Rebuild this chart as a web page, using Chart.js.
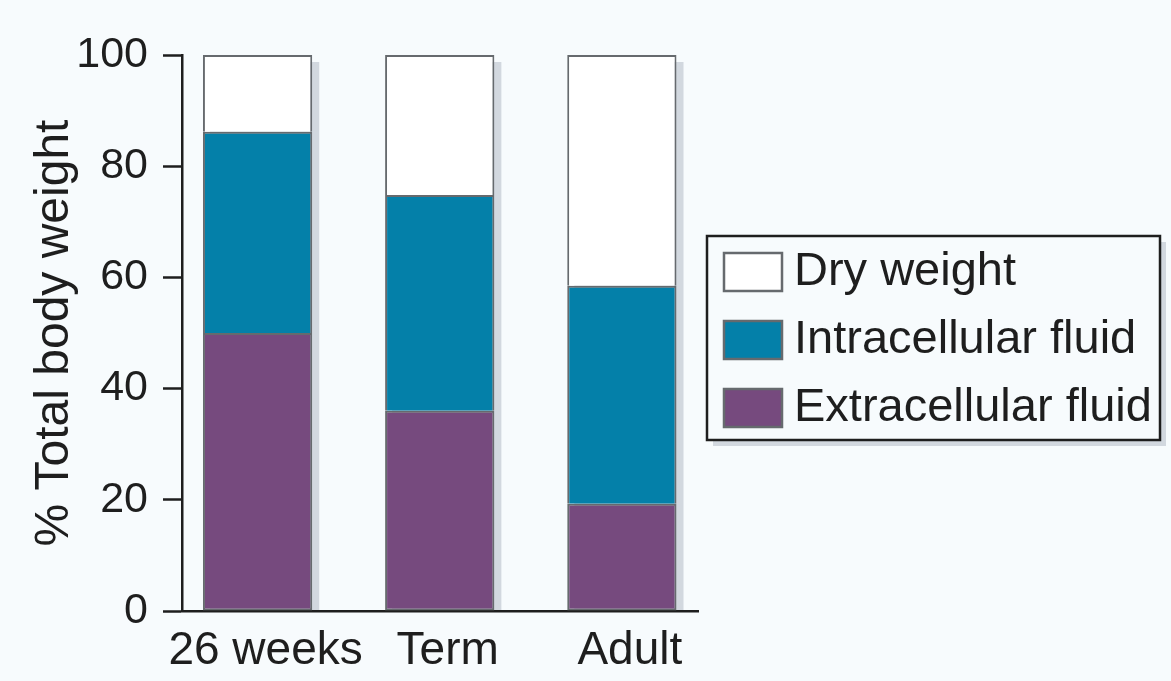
<!DOCTYPE html>
<html>
<head>
<meta charset="utf-8">
<title>Body water distribution</title>
<script src="https://cdn.jsdelivr.net/npm/chart.js@4.4.1/dist/chart.umd.min.js"></script>
<style>
  html, body { margin: 0; padding: 0; background: #f7fbfd; }
  #wrap { width: 1171px; height: 681px; }
</style>
</head>
<body>
<div id="wrap"><canvas id="body-water" width="1171" height="681"></canvas></div>
<script>
// Values (% of total body weight)
const categories = ['26 weeks', 'Term', 'Adult'];
const extracellular = [50, 36, 19.3];
const intracellular = [36.2, 38.8, 39.2];
const dryWeight = [13.8, 25.2, 41.5];
const yTicks = [0, 20, 40, 60, 80, 100];

const ink = '#1e1e1e';
const edge = '#666a6e';
const shade = '#d2d8df';
const fontFamily = '"Liberation Sans", Arial, Helvetica, sans-serif';

// grey drop shadow behind each whole bar stack
const barShadow = {
    id: 'barShadow',
    beforeDatasetsDraw(chart) {
        const ctx = chart.ctx;
        const area = chart.chartArea;
        const topMeta = chart.getDatasetMeta(chart.data.datasets.length - 1);
        const baseMeta = chart.getDatasetMeta(0);
        ctx.save();
        ctx.beginPath();
        ctx.rect(area.left, area.top - 2, area.right - area.left + 20, area.bottom - area.top + 1);
        ctx.clip();
        ctx.fillStyle = shade;
        topMeta.data.forEach(function(bar, i) {
            const top = bar.getProps(['x', 'y', 'width'], true);
            const base = baseMeta.data[i].getProps(['base'], true).base;
            ctx.fillRect(top.x - top.width / 2 + 7, top.y + 7, top.width, base - top.y);
        });
        ctx.restore();
    }
};

// framed legend box on the right, entries listed top to bottom of the stack
const legendFrame = {
    id: 'legendFrame',
    afterDraw(chart) {
        const ctx = chart.ctx;
        const box = { left: 707, top: 236, width: 453, height: 204 };
        ctx.save();
        ctx.fillStyle = shade;
        ctx.fillRect(box.left + 6, box.top + 6, box.width, box.height);
        ctx.fillStyle = '#f7fbfd';
        ctx.fillRect(box.left, box.top, box.width, box.height);
        ctx.lineWidth = 2.5;
        ctx.strokeStyle = ink;
        ctx.strokeRect(box.left, box.top, box.width, box.height);

        const items = chart.data.datasets.slice().reverse();
        ctx.font = '47px ' + fontFamily;
        ctx.textBaseline = 'middle';
        items.forEach(function(ds, i) {
            const y = box.top + 16 + i * 68;
            ctx.fillStyle = ds.backgroundColor;
            ctx.fillRect(box.left + 16, y, 60, 40);
            ctx.lineWidth = 2.5;
            ctx.strokeStyle = ds.borderColor;
            ctx.strokeRect(box.left + 17, y + 1, 58, 38);
            ctx.fillStyle = ink;
            ctx.fillText(ds.label, box.left + 87, y + 20);
        });
        ctx.restore();
    }
};

const ctx = document.getElementById('body-water').getContext('2d');

new Chart(ctx, {
    type: 'bar',
    data: {
        datasets: [
            {
                label: 'Extracellular fluid',
                data: extracellular.map((v, i) => ({ x: i, y: v })),
                backgroundColor: '#764a7e',
                borderColor: edge,
                borderWidth: 2,
                borderSkipped: false
            },
            {
                label: 'Intracellular fluid',
                data: intracellular.map((v, i) => ({ x: i, y: v })),
                backgroundColor: '#0480a9',
                borderColor: edge,
                borderWidth: 2,
                borderSkipped: 'bottom'
            },
            {
                label: 'Dry weight',
                data: dryWeight.map((v, i) => ({ x: i, y: v })),
                backgroundColor: '#ffffff',
                borderColor: edge,
                borderWidth: 2,
                borderSkipped: 'bottom'
            }
        ]
    },
    options: {
        responsive: false,
        animation: false,
        barPercentage: 0.6,
        categoryPercentage: 1,
        layout: {
            padding: { left: 31, right: 473, top: 55, bottom: 0 }
        },
        plugins: {
            legend: { display: false },
            tooltip: { enabled: false }
        },
        scales: {
            x: {
                type: 'linear',
                stacked: true,
                offset: false,
                min: -0.415,
                max: 2.418,
                afterBuildTicks: function(axis) {
                    axis.ticks = categories.map((_, i) => ({ value: i }));
                },
                afterFit: function(axis) {
                    axis.height = 70;
                },
                ticks: {
                    callback: (value) => categories[value],
                    autoSkip: false,
                    maxRotation: 0,
                    padding: 13,
                    labelOffset: 8,
                    color: ink,
                    font: { family: fontFamily, size: 46 }
                },
                grid: { display: false, drawTicks: false, offset: false },
                border: { display: true, color: ink, width: 2.5 }
            },
            y: {
                stacked: true,
                min: 0,
                max: 100,
                afterBuildTicks: function(axis) {
                    axis.ticks = yTicks.map((v) => ({ value: v }));
                },
                afterFit: function(axis) {
                    axis.width = 151;
                },
                ticks: {
                    padding: 15,
                    color: ink,
                    font: { family: fontFamily, size: 43 }
                },
                grid: {
                    drawOnChartArea: false,
                    drawTicks: true,
                    tickLength: 19,
                    tickWidth: 2.5,
                    tickColor: ink
                },
                border: { display: true, color: ink, width: 2.5 },
                title: {
                    display: true,
                    text: '% Total body weight',
                    color: ink,
                    padding: 0,
                    font: { family: fontFamily, size: 48, lineHeight: 1 }
                }
            }
        }
    },
    plugins: [barShadow, legendFrame]
});
</script>
</body>
</html>
